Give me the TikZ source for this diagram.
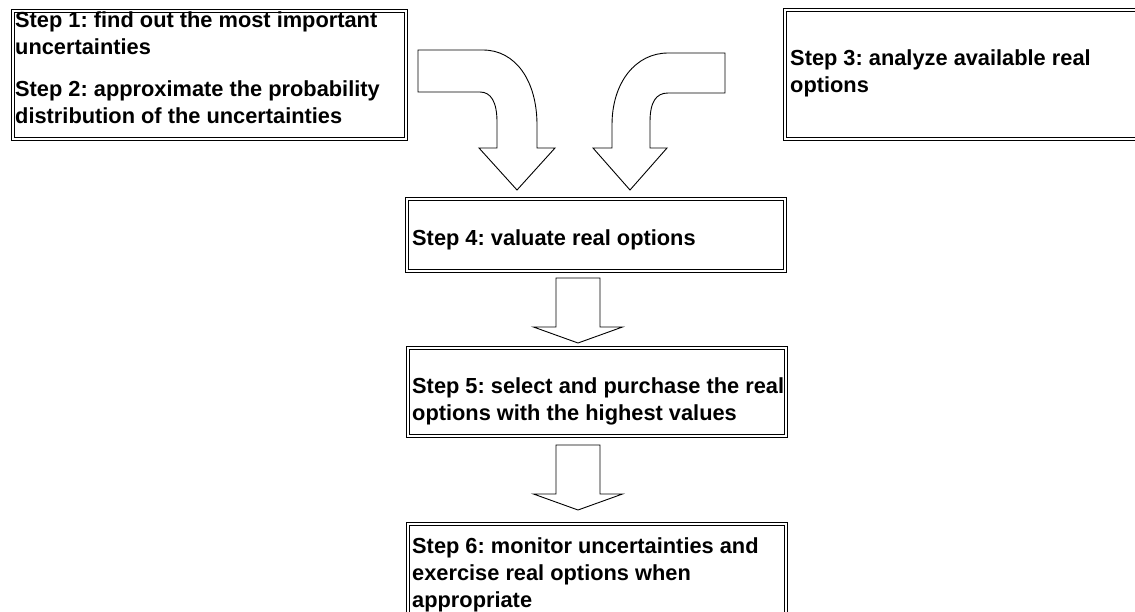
\documentclass[tikz,border=0pt]{standalone}
\usepackage{fontspec}
\setmainfont{Liberation Sans}
\frenchspacing
\begin{document}
\begin{tikzpicture}[x=1pt,y=-1pt,
  stepbox/.style={draw=black, line width=0.7pt, double=white, double distance=2.2pt,
    rectangle, inner sep=0pt, outer sep=0pt, anchor=north west},
  steptext/.style={anchor=base west, align=left, inner sep=0pt,
    font=\fontsize{21.8}{26.8}\selectfont\bfseries},
  flowarrow/.style={draw=black, line width=0.9pt, fill=white, line join=miter},
  downarrow/.pic={\draw[flowarrow] (-22,0) -- (-22,49) -- (-44.5,49) -- (0,65)
    -- (44.5,49) -- (22,49) -- (22,0) -- cycle;}]
\useasboundingbox (0,0) rectangle (1135,611);
\clip (0,0) rectangle (1135,611);

% step boxes
\node[stepbox, minimum width=393pt, minimum height=128pt] (b12) at (13,11) {};
\node[stepbox, minimum width=360pt, minimum height=129pt] (b3) at (785,10) {};
\node[stepbox, minimum width=378pt, minimum height=72pt] (b4) at (407,199) {};
\node[stepbox, minimum width=378pt, minimum height=88pt] (b5) at (408,348) {};
\node[stepbox, minimum width=378pt, minimum height=106pt] (b6) at (408,524) {};

% box texts (anchored on the baseline of their last line)
\node[steptext] (t1) at (15,54) {Step 1: find out the most important\\uncertainties};
\node[steptext] (t2) at (15,123) {Step 2: approximate the probability\\distribution of the uncertainties};
\node[steptext] (t3) at (790,92) {Step 3: analyze available real\\options};
\node[steptext] (t4) at (412,245) {Step 4: valuate real options};
\node[steptext] (t5) at (412,420) {Step 5: select and purchase the real\\options with the highest values};
\node[steptext] (t6) at (412,607) {Step 6: monitor uncertainties and\\exercise real options when\\appropriate};

% bent arrows into step 4
\draw[flowarrow] (418,50) -- (483,50) .. controls (515,50) and (537,80) .. (537,125)
  -- (537,148) -- (555,148) -- (517,190) -- (479,148) -- (497,148) -- (497,122)
  .. controls (497,102) and (491,92) .. (480,92) -- (418,92) -- cycle;
\draw[flowarrow] (725,53) -- (668,53) .. controls (636,53) and (612,82) .. (612,125)
  -- (612,148) -- (593,148) -- (630,190) -- (667,148) -- (650,148) -- (650,122)
  .. controls (650,102) and (656,93) .. (668,93) -- (725,93) -- cycle;

% straight arrows between the lower steps
\pic at ([xshift=171pt,yshift=-7pt]b4.south west) {downarrow};
\pic at ([xshift=170pt,yshift=-9pt]b5.south west) {downarrow};
\end{tikzpicture}
\end{document}
